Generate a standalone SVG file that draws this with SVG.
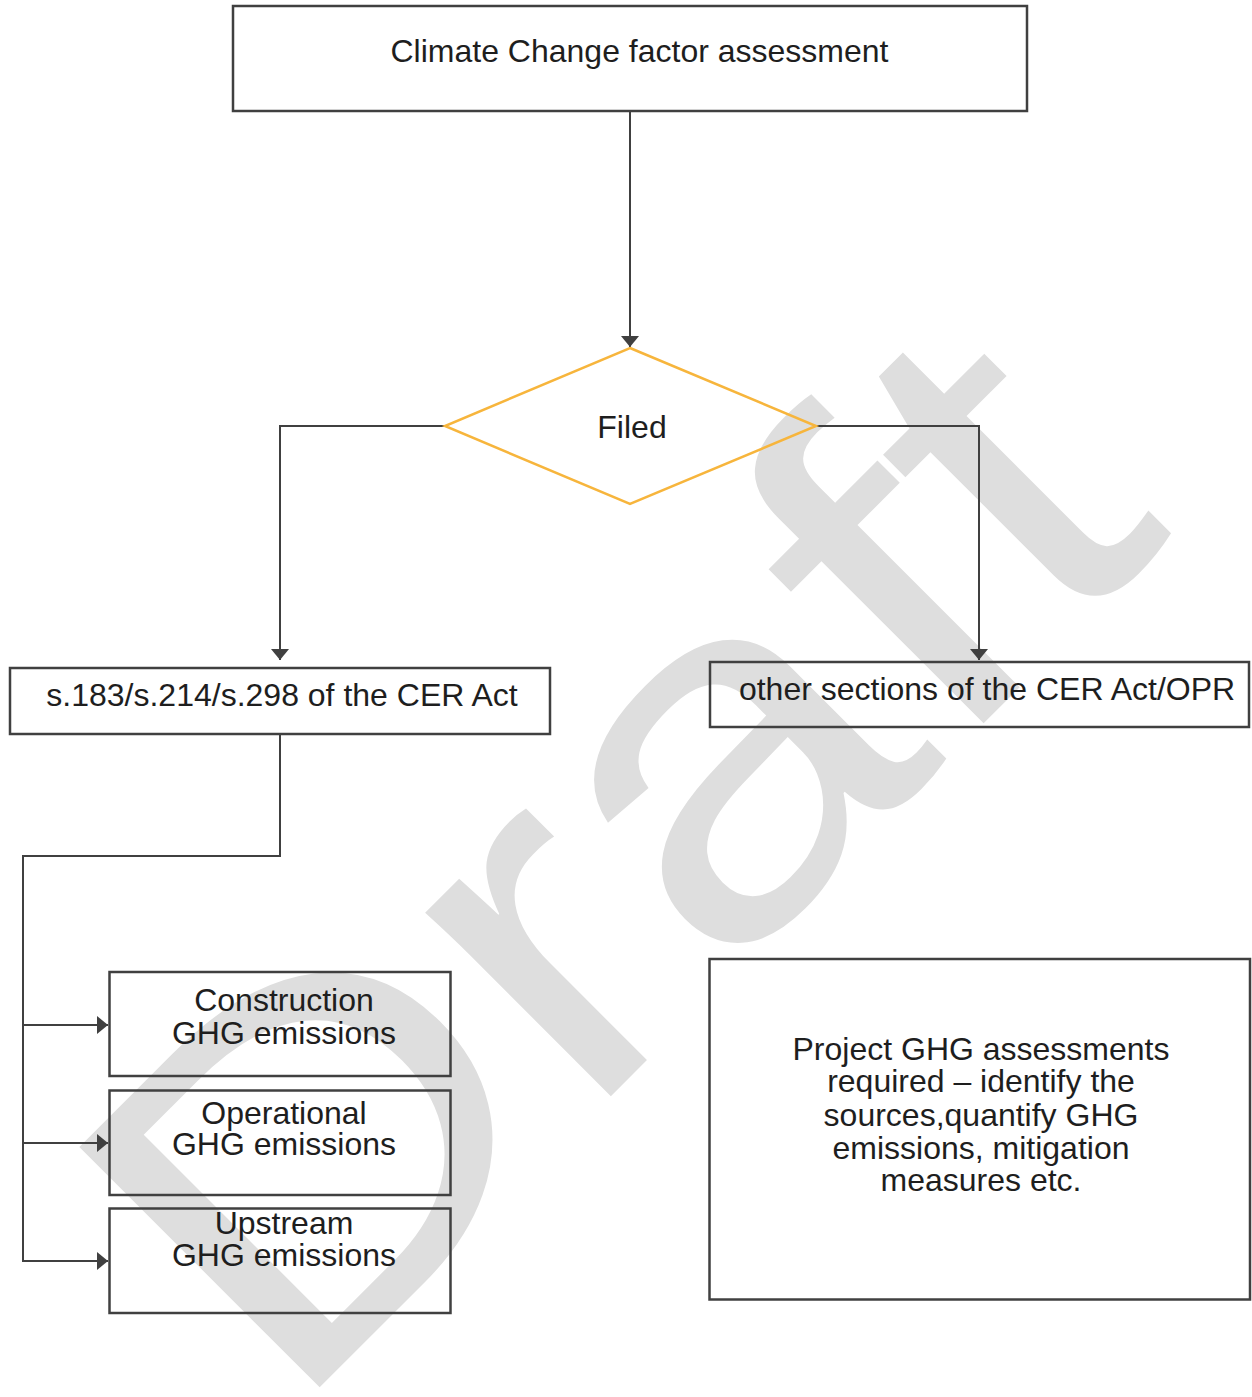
<svg xmlns="http://www.w3.org/2000/svg" width="1252" height="1397" viewBox="0 0 1252 1397">
<style>
.box{fill:none;stroke:#404040;stroke-width:2.5}
.dia{fill:none;stroke:#f7b53c;stroke-width:2.5}
.t{font-family:"Liberation Sans",Arial,sans-serif;font-size:32px;fill:#1e1e1e;text-anchor:middle}
.wm{font-family:"Liberation Sans",Arial,sans-serif;font-size:494px;fill:#dedede}
.ln{fill:none;stroke:#404040;stroke-width:2}
</style>
<defs>
<marker id="arr" markerUnits="userSpaceOnUse" markerWidth="12" markerHeight="19" refX="11" refY="9" orient="auto">
<path d="M0,0 L11,9 L0,18 Z" fill="#404040"/>
</marker>
</defs>
<rect width="1252" height="1397" fill="#ffffff"/>
<text class="wm" transform="translate(286,1421) rotate(-45) scale(1.175,1)">Draft</text>
<g id="connectors">
<path class="ln" d="M630,111 V347" marker-end="url(#arr)"/>
<path class="ln" d="M445,426 H280 V660" marker-end="url(#arr)"/>
<path class="ln" d="M816,426 H979 V660" marker-end="url(#arr)"/>
<path class="ln" d="M280,734 V856 H23 V1261 H108" marker-end="url(#arr)"/>
<path class="ln" d="M23,1025 H108" marker-end="url(#arr)"/>
<path class="ln" d="M23,1143 H108" marker-end="url(#arr)"/>
</g>
<g id="n-climate">
<rect class="box" x="233" y="6" width="794" height="105"/>
<text class="t" x="639.5" y="62">Climate Change factor assessment</text>
</g>
<g id="n-filed">
<polygon class="dia" points="630,348 816,426 630,504 445,426"/>
<text class="t" x="632" y="438">Filed</text>
</g>
<g id="n-sections">
<rect class="box" x="10" y="668" width="540" height="66"/>
<text class="t" x="282" y="706">s.183/s.214/s.298 of the CER Act</text>
</g>
<g id="n-other">
<rect class="box" x="710" y="662" width="539" height="65"/>
<text class="t" x="987" y="700">other sections of the CER Act/OPR</text>
</g>
<g id="n-construction">
<rect class="box" x="109.5" y="972" width="341" height="104"/>
<text class="t" x="284" y="1011">Construction</text>
<text class="t" x="284" y="1043.5">GHG emissions</text>
</g>
<g id="n-operational">
<rect class="box" x="109.5" y="1090.5" width="341" height="104.5"/>
<text class="t" x="284" y="1123.5">Operational</text>
<text class="t" x="284" y="1155">GHG emissions</text>
</g>
<g id="n-upstream">
<rect class="box" x="109.5" y="1208.5" width="341" height="104.5"/>
<text class="t" x="284" y="1233.5">Upstream</text>
<text class="t" x="284" y="1266">GHG emissions</text>
</g>
<g id="n-project">
<rect class="box" x="709.5" y="959" width="540.5" height="340.5"/>
<text class="t" x="981" y="1060">Project GHG assessments</text>
<text class="t" x="981" y="1092">required – identify the</text>
<text class="t" x="981" y="1126">sources,quantify GHG</text>
<text class="t" x="981" y="1158.5">emissions, mitigation</text>
<text class="t" x="981" y="1190.5">measures etc.</text>
</g>
</svg>
